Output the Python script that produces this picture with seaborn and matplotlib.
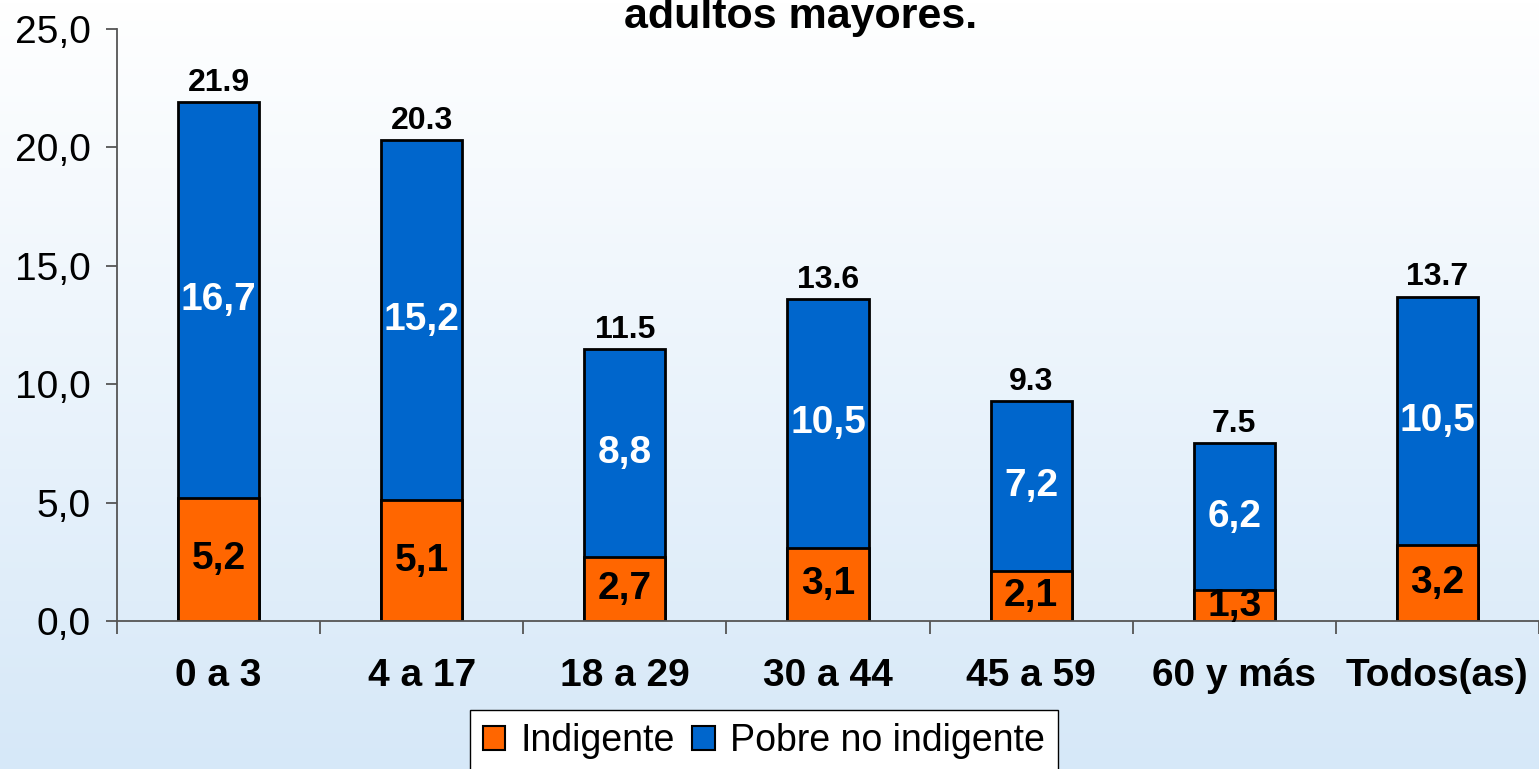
import numpy as np
import pandas as pd
import matplotlib
matplotlib.use("Agg")
import matplotlib.pyplot as plt
from matplotlib.colors import LinearSegmentedColormap
from matplotlib.patches import Patch
import seaborn as sns

# Data
categorias = ["0 a 3", "4 a 17", "18 a 29", "30 a 44", "45 a 59", "60 y más", "Todos(as)"]
indigente = [5.2, 5.1, 2.7, 3.1, 2.1, 1.3, 3.2]
pobre_no_indigente = [16.7, 15.2, 8.8, 10.5, 7.2, 6.2, 10.5]
totales = [21.9, 20.3, 11.5, 13.6, 9.3, 7.5, 13.7]

color_ind = "#FF6600"
color_pob = "#0066CC"

df = pd.DataFrame({
    "categoria": categorias,
    "indigente": indigente,
    "pobre": pobre_no_indigente,
})
df["total"] = df["indigente"] + df["pobre"]

sns.set_style("white")
plt.rcParams["font.family"] = ["Liberation Sans", "DejaVu Sans"]
plt.rcParams["text.color"] = "black"
plt.rcParams["xtick.color"] = "black"
plt.rcParams["ytick.color"] = "black"

fig = plt.figure(figsize=(15.39, 7.69), dpi=100)

# Gradient background (white -> light blue)
bg = fig.add_axes([0, 0, 1, 1], zorder=-10)
grad = np.linspace(0, 1, 256).reshape(-1, 1)
cmap_bg = LinearSegmentedColormap.from_list("bg", ["#FFFFFF", "#D6E8F8"])
bg.imshow(grad, aspect="auto", cmap=cmap_bg, extent=[0, 1, 0, 1])
bg.axis("off")

ax = fig.add_axes([117 / 1539, 1 - 621 / 769, (1539 - 117) / 1539, (621 - 29) / 769])
ax.set_facecolor("none")

# Stacked bars: total in blue, indigente in orange over it
sns.barplot(data=df, x="categoria", y="total", color=color_pob, width=0.4,
            edgecolor="black", linewidth=2, saturation=1, ax=ax)
sns.barplot(data=df, x="categoria", y="indigente", color=color_ind, width=0.4,
            edgecolor="black", linewidth=2, saturation=1, ax=ax)

ax.set_ylim(0, 25)
ax.set_xlim(-0.5, len(categorias) - 0.5)
ax.set_yticks(np.arange(0, 26, 5))
ax.set_yticklabels([f"{v:.1f}".replace(".", ",") for v in np.arange(0, 26, 5)])
ax.set_xlabel("")
ax.set_ylabel("")

for s in ["top", "right"]:
    ax.spines[s].set_visible(False)
for s in ["left", "bottom"]:
    ax.spines[s].set_color("#555555")
    ax.spines[s].set_linewidth(1.3)

ax.tick_params(axis="y", which="major", length=8, width=1.3, color="#555555",
               direction="out", left=True, labelsize=28, pad=11, labelcolor="black")
ax.tick_params(axis="x", which="major", length=0, labelsize=28, pad=27, labelcolor="black")
for lab in ax.get_xticklabels():
    lab.set_fontweight("bold")
ax.set_xticks(np.arange(-0.5, len(categorias) - 0.4, 1), minor=True)
ax.tick_params(axis="x", which="minor", length=9, width=1.3, color="#555555",
               direction="out", bottom=True)

# Labels inside segments and totals above
for i, row in df.iterrows():
    ax.text(i, row["indigente"] / 2, f"{row['indigente']:.1f}".replace(".", ","),
            ha="center", va="center", fontsize=28, fontweight="bold", color="black")
    ax.text(i, row["indigente"] + row["pobre"] / 2, f"{row['pobre']:.1f}".replace(".", ","),
            ha="center", va="center", fontsize=28, fontweight="bold", color="white")
    ax.annotate(f"{totales[i]:.1f}", xy=(i, totales[i]), xytext=(0, 3),
                textcoords="offset points", ha="center", va="bottom",
                fontsize=23, fontweight="bold", color="black")

# Title (first line is cut off in the original)
fig.text(801 / 1539, 1 - 28 / 769, "adultos mayores.", ha="center", va="baseline",
         fontsize=31, fontweight="bold", color="black")

handles = [Patch(facecolor=color_ind, edgecolor="black", linewidth=1.5, label="Indigente"),
           Patch(facecolor=color_pob, edgecolor="black", linewidth=1.5, label="Pobre no indigente")]
leg = fig.legend(handles=handles, loc="upper center", bbox_to_anchor=(764 / 1539, 1 - 710 / 769),
                 ncol=2, fontsize=27, frameon=True, fancybox=False, edgecolor="black",
                 handlelength=0.6, handleheight=0.6, handletextpad=0.42, columnspacing=0.45,
                 borderpad=0.35, borderaxespad=0)
leg.get_frame().set_linewidth(1.0)
leg.get_frame().set_facecolor("white")
leg.get_frame().set_alpha(1)

fig.savefig("out.png", dpi=100)
